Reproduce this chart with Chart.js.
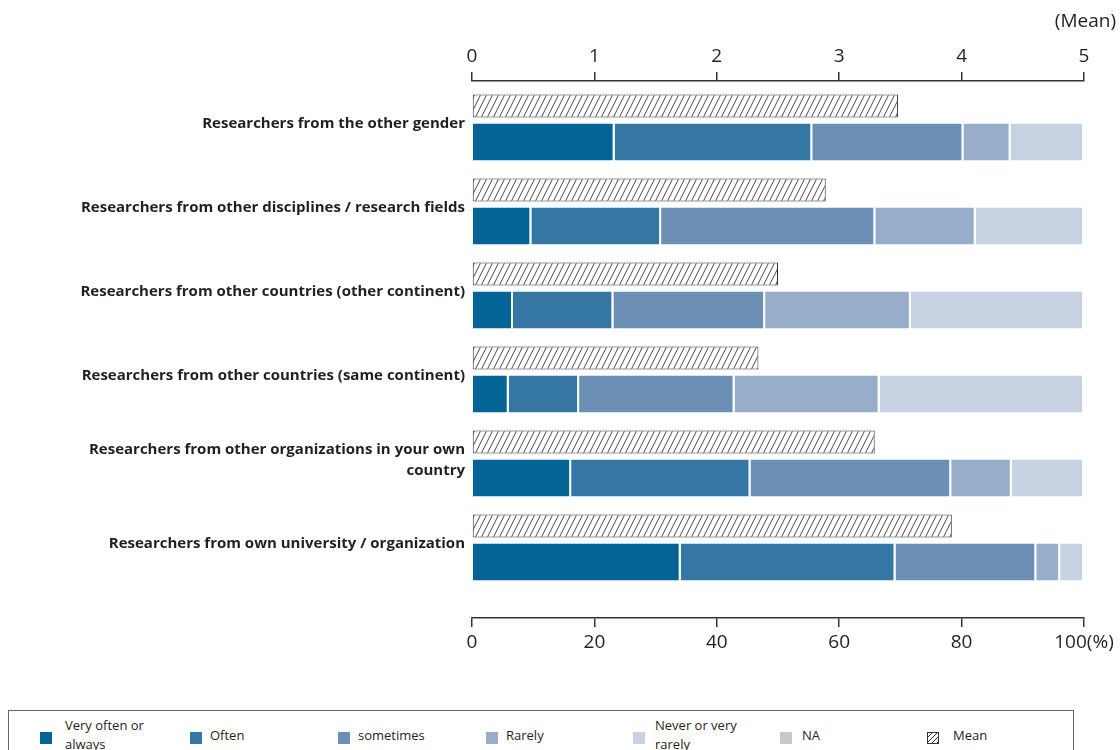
<!DOCTYPE html>
<html>
<head>
<meta charset="utf-8">
<script src="https://cdn.jsdelivr.net/npm/chart.js@4/dist/chart.umd.min.js"></script>
<style>
  html, body { margin: 0; padding: 0; background: #fff; width: 1120px; height: 750px; overflow: hidden; }
  #wrap { position: relative; width: 1120px; height: 750px; }
  #c { position: absolute; left: 0; top: 0; }
  #legend { position: absolute; left: 8px; top: 710px; width: 1066px; height: 60px; border: 1px solid #666; box-sizing: border-box; font-family: "Open Sans", sans-serif; font-size: 13px; color: #231f20; }
  .li { position: absolute; top: 4px; height: 40px; display: flex; align-items: center; }
  .sw { width: 12px; height: 12px; margin-top: 5px; box-sizing: border-box; }
  .tx { margin-left: 9px; white-space: pre-line; line-height: 19px; }
</style>
</head>
<body>
<div id="wrap">
  <canvas id="c" width="1120" height="660"></canvas>
  <div id="legend"></div>
</div>
<script>
// ---- data ----
const categories = [
  'Researchers from the other gender',
  'Researchers from other disciplines / research fields',
  'Researchers from other countries (other continent)',
  'Researchers from other countries (same continent)',
  ['Researchers from other organizations in your own', 'country'],
  'Researchers from own university / organization'
];
const seriesNames = ['Very often or\nalways', 'Often', 'sometimes', 'Rarely', 'Never or very\nrarely', 'NA'];
const veryOften = [23.3, 9.7, 6.7, 6.0, 16.2, 34.1];
const often     = [32.3, 21.2, 16.4, 11.5, 29.3, 35.1];
const sometimes = [24.7, 35.0, 24.8, 25.4, 32.8, 23.0];
const rarely    = [7.7, 16.4, 23.8, 23.7, 9.9, 3.9];
const never     = [12.0, 17.7, 28.3, 33.4, 11.8, 3.9];
const na        = [0, 0, 0, 0, 0, 0];
const meanValues = [3.48, 2.89, 2.50, 2.34, 3.29, 3.92];
const meanName = 'Mean';
const pctTicks = [0, 20, 40, 60, 80, 100];
const meanTicks = [0, 1, 2, 3, 4, 5];

const colors = ['#046495', '#3476a4', '#6b8fb5', '#97adca', '#c6d2e2', '#c8c8c8'];

// hatch pattern
function makeHatch() {
  const p = document.createElement('canvas');
  p.width = 6; p.height = 12;
  const g = p.getContext('2d');
  g.fillStyle = '#fff'; g.fillRect(0, 0, 6, 12);
  g.strokeStyle = '#333'; g.lineWidth = 0.9;
  for (const off of [-6, 0, 6]) {
    g.beginPath(); g.moveTo(off, 12); g.lineTo(off + 6, 0); g.stroke();
  }
  return document.getElementById('c').getContext('2d').createPattern(p, 'repeat');
}
const hatch = makeHatch();

const toPts = arr => arr.map((v, i) => ({ x: v, y: i }));
const pctSeries = [veryOften, often, sometimes, rarely, never, na];

const datasets = [{
  label: meanName,
  data: toPts(meanValues),
  xAxisID: 'x2', yAxisID: 'y', stack: 'mean',
  backgroundColor: hatch, borderColor: '#333', borderWidth: 1, borderSkipped: false,
  categoryPercentage: 72 / 84, barPercentage: 23 / 36
}];
pctSeries.forEach((s, k) => datasets.push({
  label: seriesNames[k],
  data: toPts(s),
  xAxisID: 'x', yAxisID: 'y', stack: 'pct',
  backgroundColor: colors[k], borderColor: '#ffffff',
  borderWidth: { top: 0, bottom: 0, left: 0, right: 2 }, borderSkipped: false,
  categoryPercentage: 72 / 84, barPercentage: 37 / 36
}));

const tickFont = { family: 'Open Sans', size: 19 };
const txtColor = '#231f20';

const chart = new Chart(document.getElementById('c'), {
  type: 'bar',
  data: { datasets },
  options: {
    indexAxis: 'y',
    responsive: false,
    animation: false,
    devicePixelRatio: 1,
    layout: { padding: { top: 0, left: 0, right: 4, bottom: 6 } },
    plugins: {
      legend: { display: false },
      tooltip: { enabled: false },
      title: { display: true, text: '(Mean)', align: 'end', color: txtColor,
               font: { family: 'Open Sans', size: 19, weight: 'normal' }, padding: { top: 10, bottom: 12 } }
    },
    scales: {
      y: {
        type: 'linear', position: 'left', reverse: true, stacked: true, offset: false,
        min: -(124 - 81) / 84, max: (618 - 124) / 84,
        grid: { display: false, drawTicks: false, offset: false }, border: { display: false },
        afterBuildTicks: s => { s.ticks = categories.map((c, i) => ({ value: i })); },
        afterFit: s => { s.width = 472; },
        ticks: {
          padding: 7, color: txtColor,
          font: { family: 'Open Sans', size: 15, weight: 'bold', lineHeight: 1.4 },
          callback: v => categories[v]
        }
      },
      yR: {
        type: 'linear', axis: 'y', position: 'right', display: true,
        grid: { display: false, drawTicks: false }, border: { display: false },
        ticks: { display: false },
        afterFit: s => { s.width = 32; }
      },
      x: {
        type: 'linear', position: 'bottom', stacked: true, min: 0, max: 100,
        grid: { drawOnChartArea: false, color: '#333', lineWidth: 1.5, tickLength: 9 },
        border: { display: true, color: '#333', width: 1.5 },
        afterBuildTicks: s => { s.ticks = pctTicks.map(v => ({ value: v })); },
        afterFit: s => { s.height = 36; },
        ticks: { padding: 4, color: txtColor, font: tickFont, maxRotation: 0,
                 callback: v => v === 100 ? '100(%)' : String(v) }
      },
      x2: {
        type: 'linear', position: 'top', min: 0, max: 5,
        grid: { drawOnChartArea: false, color: '#333', lineWidth: 1.5, tickLength: 9 },
        border: { display: true, color: '#333', width: 1.5 },
        afterBuildTicks: s => { s.ticks = meanTicks.map(v => ({ value: v })); },
        afterFit: s => { s.height = 36.2; },
        ticks: { padding: 4, color: txtColor, font: tickFont, maxRotation: 0 }
      }
    }
  }
});

// HTML legend built from datasets
const legend = document.getElementById('legend');
const order = [1, 2, 3, 4, 5, 6, 0];
const lefts = [31, 181, 329, 477, 624, 771, 918];
const gaps = [13, 8, 8, 8, 10, 10, 14];
order.forEach((di, j) => {
  const ds = chart.data.datasets[di];
  const item = document.createElement('div');
  item.className = 'li';
  item.style.left = lefts[j] + 'px';
  const sw = document.createElement('div');
  sw.className = 'sw';
  if (di === 0) {
    sw.style.border = '1px solid #333';
    sw.style.background = 'repeating-linear-gradient(135deg, #fff 0px, #fff 2.5px, #333 2.5px, #333 3.5px)';
  } else {
    sw.style.background = ds.backgroundColor;
  }
  const tx = document.createElement('div');
  tx.className = 'tx';
  tx.textContent = ds.label;
  tx.style.marginLeft = gaps[j] + 'px';
  item.appendChild(sw); item.appendChild(tx);
  legend.appendChild(item);
});
</script>
</body>
</html>
